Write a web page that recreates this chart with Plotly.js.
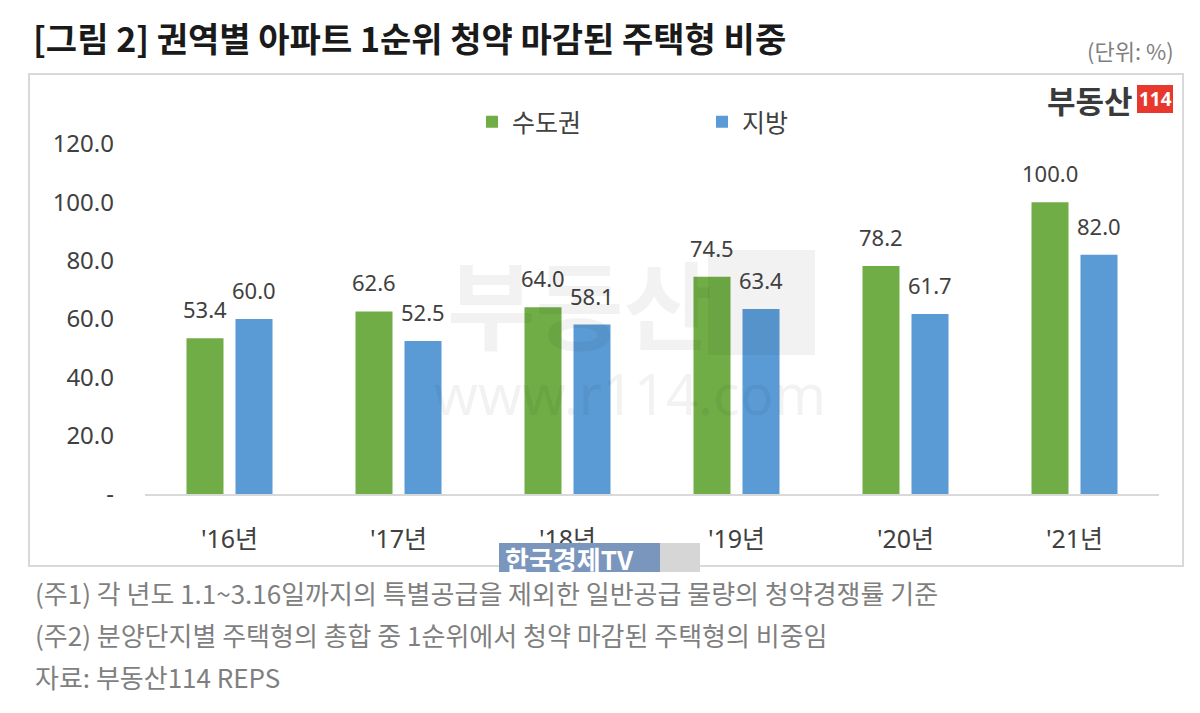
<!DOCTYPE html>
<html>
<head>
<meta charset="utf-8">
<script src="https://cdn.plot.ly/plotly-3.0.1.min.js"></script>
<style>html,body{margin:0;padding:0;background:#fff;}#chart{width:1200px;height:713px;}</style>
</head>
<body>
<div id="chart"></div>
<script>
// ---- data ----
const categories = ["'16년", "'17년", "'18년", "'19년", "'20년", "'21년"];
const seriesNames = ["수도권", "지방"];
const capitalArea = [53.4, 62.6, 64.0, 74.5, 78.2, 100.0];
const regions = [60.0, 52.5, 58.1, 63.4, 61.7, 82.0];
const yTickVals = [0, 20, 40, 60, 80, 100, 120];
const yTickText = ["-", "20.0", "40.0", "60.0", "80.0", "100.0", "120.0"];
const titleText = "[그림 2] 권역별 아파트 1순위 청약 마감된 주택형 비중";
const unitText = "(단위: %)";
const notes = [
  "(주1) 각 년도 1.1~3.16일까지의 특별공급을 제외한 일반공급 물량의 청약경쟁률 기준",
  "(주2) 분양단지별 주택형의 총합 중 1순위에서 청약 마감된 주택형의 비중임",
  "자료: 부동산114 REPS"
];

// ---- layout geometry (pixels) ----
const W = 1200, H = 713;
const L = 145, R = 41, T = 144, B = 219;
const PW = W - L - R, PH = H - T - B;
const px = x => (x - L) / PW;
const py = y => (H - B - y) / PH;

const FONT = "Noto Sans, Noto Sans CJK KR, sans-serif";
const KFONT = "Noto Sans CJK KR, Noto Sans, sans-serif";
const GREEN = "#70AD47", BLUE = "#5B9BD5";

const traces = [
  {type: "bar", name: seriesNames[0], x: categories, y: capitalArea,
   marker: {color: GREEN}, hoverinfo: "skip"},
  {type: "bar", name: seriesNames[1], x: categories, y: regions,
   marker: {color: BLUE}, hoverinfo: "skip"}
];

function paperNote(x, y, text, font, xanchor) {
  return {xref: "paper", yref: "paper", x: px(x), y: py(y), xanchor: xanchor || "left",
          yanchor: "middle", showarrow: false, text: text, font: font};
}

const annotations = [];
// value labels above bars (data coordinates)
const seriesVals = [capitalArea, regions];
const shifts = [-24.5, 24.5];
seriesVals.forEach((vals, s) => {
  vals.forEach((v, i) => {
    annotations.push({xref: "x", yref: "y", x: categories[i], y: v, xshift: shifts[s],
      xanchor: "center", yanchor: "bottom", yshift: 12, showarrow: false, text: v.toFixed(1),
      font: {family: FONT, size: 22, color: "#404040"}});
  });
});
// watermark
annotations.push(paperNote(445, 300, "<b>부동산</b>", {family: KFONT, size: 96, color: "rgba(0,0,0,0.05)"}, "left"));
annotations.push(paperNote(630, 393, "www.r114.com", {family: FONT, size: 56, color: "rgba(0,0,0,0.05)"}, "center"));
// unit
annotations.push(paperNote(1176, 50, unitText, {family: KFONT, size: 22, color: "#7f7f7f"}, "right"));
// logo
annotations.push(paperNote(1135, 99, "<b>부동산</b>", {family: KFONT, size: 31, color: "#3a3a3a"}, "right"));
annotations.push(paperNote(1155, 99, "<b>114</b>", {family: FONT, size: 19, color: "#ffffff"}, "center"));
// 한국경제TV overlay
annotations.push(paperNote(503, 558, "<b>한국경제TV</b>", {family: KFONT, size: 26, color: "#ffffff"}, "left"));
// footnotes
[592, 634, 676].forEach((y, i) => {
  annotations.push(paperNote(33, y, notes[i], {family: KFONT, size: 26, color: "#7f7f7f"}, "left"));
});

const shapes = [
  {type: "rect", xref: "paper", yref: "paper", x0: px(29), x1: px(1183), y0: py(74), y1: py(566),
   line: {color: "#d9d9d9", width: 2}, layer: "below"},
  {type: "rect", xref: "paper", yref: "paper", x0: px(708), x1: px(815), y0: py(250), y1: py(355),
   line: {width: 0}, fillcolor: "rgba(0,0,0,0.05)", layer: "above"},
  {type: "rect", xref: "paper", yref: "paper", x0: px(1137), x1: px(1173), y0: py(85), y1: py(113),
   line: {width: 0}, fillcolor: "#e8382d", layer: "above"},
  {type: "rect", xref: "paper", yref: "paper", x0: px(499), x1: px(660), y0: py(543), y1: py(572),
   line: {width: 0}, fillcolor: "#7b96bd", layer: "above"},
  {type: "rect", xref: "paper", yref: "paper", x0: px(660), x1: px(700), y0: py(543), y1: py(572),
   line: {width: 0}, fillcolor: "#d6d6d6", layer: "above"}
];

const layout = {
  width: W, height: H,
  margin: {l: L, r: R, t: T, b: B, pad: 0},
  paper_bgcolor: "#ffffff", plot_bgcolor: "rgba(0,0,0,0)",
  font: {family: FONT, color: "#404040"},
  title: {text: "<b>" + titleText + "</b>", xref: "container", yref: "container",
          x: 33 / W, xanchor: "left", y: 1 - 40 / H, yanchor: "middle",
          font: {family: KFONT, size: 34, color: "#1a1a1a"}},
  barmode: "group", bargap: 0.42, bargroupgap: 0.245,
  showlegend: true,
  legend: {orientation: "h", x: px(472), xanchor: "left", y: py(122), yanchor: "middle",
           entrywidth: 185, entrywidthmode: "pixels",
           font: {family: KFONT, size: 25, color: "#404040"}, bgcolor: "rgba(0,0,0,0)"},
  xaxis: {type: "category", showgrid: false, zeroline: false, showline: true, linecolor: "#d9d9d9", linewidth: 1.5,
          ticks: "", ticklabelstandoff: 22, tickfont: {family: FONT, size: 25, color: "#404040"}, fixedrange: true},
  yaxis: {range: [0, 120], tickvals: yTickVals, ticktext: yTickText, showgrid: false, zeroline: false,
          showline: false, ticks: "", ticklabelstandoff: 30, tickfont: {family: FONT, size: 24, color: "#404040"},
          fixedrange: true},
  annotations: annotations,
  shapes: shapes
};

Plotly.newPlot("chart", traces, layout, {displayModeBar: false, staticPlot: true});
</script>
</body>
</html>
